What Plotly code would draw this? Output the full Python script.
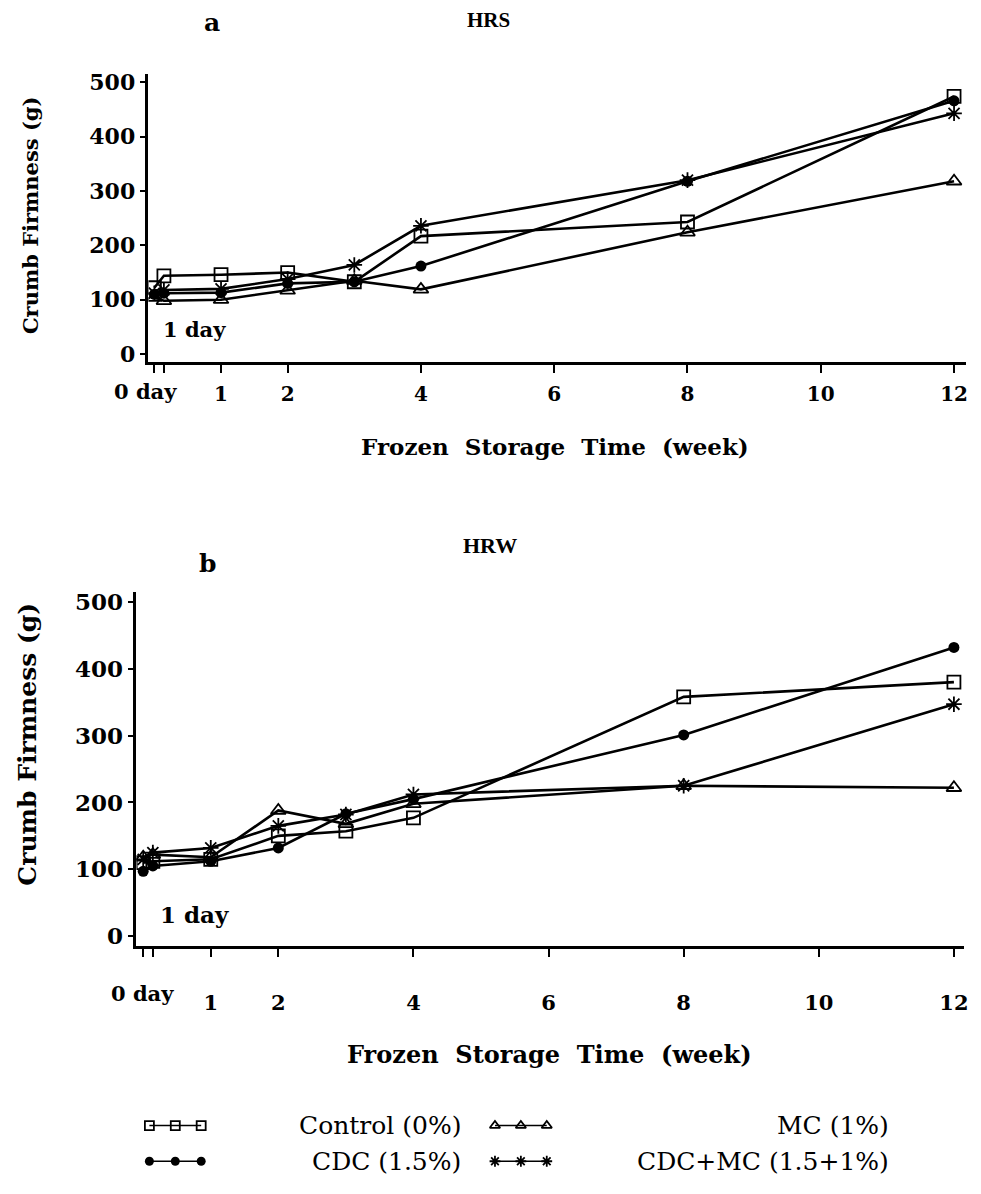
import plotly.graph_objects as go

# Sampling times (weeks); 1 day = 1/7 week
weeks = [0, 1 / 7, 1, 2, 3, 4, 8, 12]

# Crumb firmness (g), HRS bread
hrs_control = [122, 144, 146, 150, 133, 217, 243, 474]
hrs_cdc = [110, 112, 113, 130, 133, 162, 318, 466]
hrs_mc = [104, 98, 100, 117, 135, 119, 224, 318]
hrs_cdc_mc = [112, 118, 120, 138, 164, 236, 320, 443]

# Crumb firmness (g), HRW bread
hrw_control = [110, 112, 115, 150, 157, 177, 358, 380]
hrw_cdc = [97, 105, 112, 132, 183, 205, 301, 432]
hrw_mc = [118, 122, 118, 188, 168, 198, 225, 222]
hrw_cdc_mc = [115, 125, 132, 165, 182, 212, 225, 347]

series_names = ["Control (0%)", "CDC (1.5%)", "MC (1%)", "CDC+MC (1.5+1%)"]
x_tickvals = [0, 1 / 7, 1, 2, 4, 6, 8, 10, 12]
x_ticktext = ["", "", "1", "2", "4", "6", "8", "10", "12"]
y_tickvals = [0, 100, 200, 300, 400, 500]

W, H = 981, 1194


def fx(p):
    return p / W


def fy(p):
    return 1 - p / H


SERIF = "DejaVu Serif"
styles = [
    dict(symbol="square-open", size=13, color="black",
         line=dict(width=1.8, color="black")),
    dict(symbol="circle", size=11, color="black"),
    dict(symbol="triangle-up-open", size=13, color="black",
         line=dict(width=1.8, color="black")),
    dict(symbol="asterisk-open", size=13, color="black",
         line=dict(width=1.8, color="black")),
]

fig = go.Figure()

panels = [
    ("x", "y", [hrs_control, hrs_cdc, hrs_mc, hrs_cdc_mc]),
    ("x2", "y2", [hrw_control, hrw_cdc, hrw_mc, hrw_cdc_mc]),
]
for xa, ya, data in panels:
    for name, vals, st in zip(series_names, data, styles):
        fig.add_trace(go.Scatter(
            x=weeks, y=vals, name=name, mode="lines+markers",
            line=dict(color="black", width=2.6),
            marker=st, xaxis=xa, yaxis=ya, showlegend=False,
        ))

# legend key strip along the bottom (pixel coordinates)
LEG_TOP = 1100
legend_spots = [(150, 1130), (150, 1166), (497, 1130), (497, 1166)]
for st, (lx, ly) in zip(styles, legend_spots):
    st = dict(st)
    st["size"] = 9
    fig.add_trace(go.Scatter(
        x=[lx, lx + 26, lx + 52], y=[ly, ly, ly], mode="lines+markers",
        line=dict(color="black", width=1.5), marker=st,
        xaxis="x3", yaxis="y3", showlegend=False, hoverinfo="skip",
    ))


def xaxis_cfg(domain, rng, anchor, size, standoff):
    return dict(
        domain=domain, range=rng, anchor=anchor, tickmode="array",
        tickvals=x_tickvals, ticktext=x_ticktext,
        showline=True, linecolor="black", linewidth=2.5, showgrid=False,
        zeroline=False, ticks="outside", tickcolor="black", tickwidth=2,
        ticklen=8, ticklabelstandoff=standoff,
        tickfont=dict(family=SERIF, size=size, color="black", weight="bold"),
    )


def yaxis_cfg(domain, rng, anchor, size):
    return dict(
        domain=domain, range=rng, anchor=anchor, tickmode="array",
        tickvals=y_tickvals,
        showline=True, linecolor="black", linewidth=2.5, showgrid=False,
        zeroline=False, ticks="outside", tickcolor="black", tickwidth=2,
        ticklen=6,
        tickfont=dict(family=SERIF, size=size, color="black", weight="bold"),
    )


fig.update_layout(
    width=W, height=H, margin=dict(l=0, r=0, t=0, b=0),
    paper_bgcolor="white", plot_bgcolor="rgba(0,0,0,0)",
    xaxis=xaxis_cfg([fx(149), fx(970)], [-0.09, 12.18], "y", 20, 4),
    yaxis=yaxis_cfg([fy(360), fy(70)], [-14.6, 514.6], "x", 22),
    xaxis2=xaxis_cfg([fx(137), fx(968)], [-0.10, 12.15], "y2", 21, 28),
    yaxis2=yaxis_cfg([fy(949), fy(592)], [-14.8, 514.8], "x2", 23),
    xaxis3=dict(domain=[0, 1], range=[0, W], visible=False, anchor="y3"),
    yaxis3=dict(domain=[0, fy(LEG_TOP)], range=[H, LEG_TOP], visible=False,
                anchor="x3"),
)


def text(x, y, s, size, bold=True, anchor="center", angle=0, family=SERIF):
    fig.add_annotation(
        x=fx(x), y=fy(y), xref="paper", yref="paper", text=s,
        showarrow=False, xanchor=anchor, yanchor="middle", textangle=angle,
        font=dict(family=family, size=size, color="black",
                  weight="bold" if bold else "normal"),
    )


# panel letters and titles
text(213, 18, "a", 25)
text(490, 15, "HRS", 21, family="Liberation Serif")
text(208, 563, "b", 25)
text(492, 545, "HRW", 22, family="Liberation Serif")

# "0 day" labels under the first two ticks
text(146, 390, "0 day", 21)
text(143, 997, "0 day", 21)

# "1 day" notes inside the plots
text(195, 327, "1 day", 21)
text(195, 917, "1 day", 23)

# axis titles
text(557, 445, "Frozen  Storage  Time  (week)", 23)
text(552, 1058, "Frozen  Storage  Time  (week)", 24)
text(30, 212, "Crumb Firmness (g)", 21, angle=-90)
text(28, 745, "Crumb Firmness (g)", 25, angle=-90)

# legend labels
text(465, 1130, "Control (0%)", 25, bold=False, anchor="right")
text(465, 1166, "CDC (1.5%)", 25, bold=False, anchor="right")
text(895, 1130, "MC (1%)", 25, bold=False, anchor="right")
text(895, 1166, "CDC+MC (1.5+1%)", 25, bold=False, anchor="right")

fig.write_html("out.html")
